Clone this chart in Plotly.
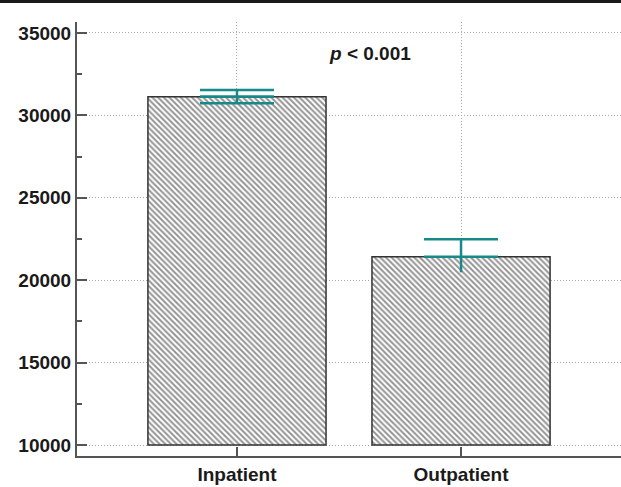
import plotly.graph_objects as go

categories = ["Inpatient", "Outpatient"]
means = [31135, 21430]
err_plus = [410, 1050]
err_minus = [400, 950]
lower_cap = [True, False]
baseline = 10000
y_ticks = [10000, 15000, 20000, 25000, 30000, 35000]
annotation_text = "<b><i>p</i> < 0.001</b>"

FONT = "Liberation Sans, Arial, sans-serif"
TEAL = "#17898a"
PLOT_H = 434

fig = go.Figure()

fig.add_trace(go.Bar(
    x=categories,
    y=[m - baseline for m in means],
    base=[baseline] * len(means),
    width=0.795,
    marker=dict(
        color="white",
        line=dict(color="#333333", width=1.5),
        pattern=dict(shape="\\", fgcolor="#2a2a2a", bgcolor="white", size=4, solidity=0.5),
    ),
    showlegend=False,
))

for cat, m, ep, em, cap in zip(categories, means, err_plus, err_minus, lower_cap):
    fig.add_trace(go.Scatter(
        x=[cat], y=[m], mode="markers", marker=dict(size=0.1, color="rgba(0,0,0,0)"),
        error_y=dict(type="data", symmetric=False, array=[ep], arrayminus=[0],
                     color=TEAL, thickness=2.5, width=37),
        showlegend=False,
    ))
    fig.add_trace(go.Scatter(
        x=[cat], y=[m], mode="markers", marker=dict(size=0.1, color="rgba(0,0,0,0)"),
        error_y=dict(type="data", symmetric=False, array=[0], arrayminus=[em],
                     color=TEAL, thickness=2.5, width=37 if cap else 0),
        showlegend=False,
    ))

fig.add_annotation(x=0.594, y=33786, xref="x", yref="y", text=annotation_text,
                   showarrow=False, font=dict(family=FONT, size=19, color="#1a1a1a"))

# top rule
fig.add_shape(type="rect", xref="paper", yref="paper", layer="above",
              x0=-77 / 544, x1=1.0, y0=1 + 19 / PLOT_H, y1=1 + 22 / PLOT_H,
              fillcolor="#1a1a1a", line=dict(width=0))

fig.update_layout(
    width=621, height=487,
    margin=dict(l=77, r=0, t=22, b=31, autoexpand=False),
    paper_bgcolor="white", plot_bgcolor="white",
    font=dict(family=FONT, size=19, color="#1a1a1a"),
    bargap=0.2,
)

GRID_DASH = "1px,2px"

fig.update_xaxes(
    type="category", range=[-0.714, 1.714], automargin=False,
    showline=True, linecolor="#555555", linewidth=2,
    ticks="inside", ticklen=9, tickwidth=2, tickcolor="#555555",
    showgrid=True, gridcolor="#aaaaaa", griddash=GRID_DASH, gridwidth=1,
    tickfont=dict(family=FONT, size=19, color="#1a1a1a", weight="bold"),
    zeroline=False,
)
fig.update_yaxes(
    range=[9333, 35667], automargin=False,
    tickvals=y_ticks, ticktext=[str(v) for v in y_ticks],
    showline=True, linecolor="#555555", linewidth=2,
    ticks="inside", ticklen=10, tickwidth=2, tickcolor="#555555",
    minor=dict(tickmode="linear", tick0=10000, dtick=2500, ticks="inside", ticklen=5,
               tickwidth=1.5, tickcolor="#555555", showgrid=False),
    showgrid=True, gridcolor="#aaaaaa", griddash=GRID_DASH, gridwidth=1,
    tickfont=dict(family=FONT, size=19, color="#1a1a1a", weight="bold"),
    zeroline=False,
)

fig.write_html(
    "out.html",
    config={"displayModeBar": False},
    post_script="document.body.style.margin='0';document.body.style.padding='0';",
)
